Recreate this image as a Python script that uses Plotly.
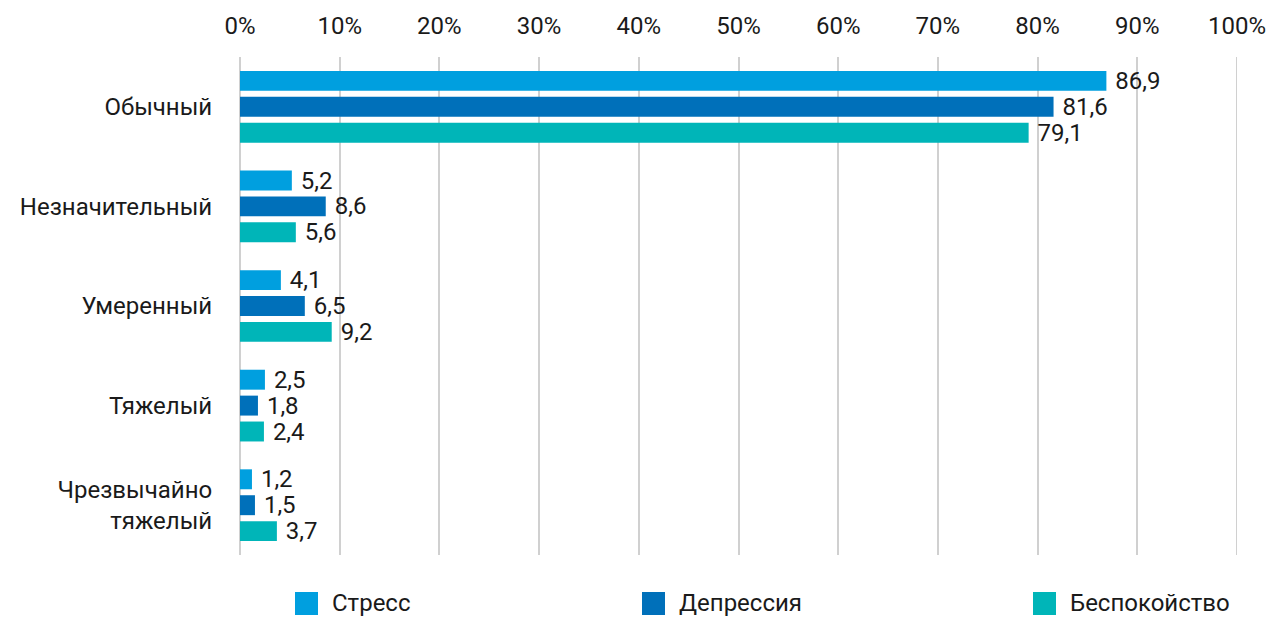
import plotly.graph_objects as go

categories = ["Обычный", "Незначительный", "Умеренный", "Тяжелый", "Чрезвычайно<br>тяжелый"]
series_names = ["Стресс", "Депрессия", "Беспокойство"]
stress = [86.9, 5.2, 4.1, 2.5, 1.2]
depression = [81.6, 8.6, 6.5, 1.8, 1.5]
anxiety = [79.1, 5.6, 9.2, 2.4, 3.7]
colors = ["#009FDF", "#0070BA", "#00B5B8"]
tick_vals = [0, 10, 20, 30, 40, 50, 60, 70, 80, 90, 100]
tick_text = [f"{v}%" for v in tick_vals]

FONT = "Roboto"
FS = 24
TXT = "#1a1a1a"
GRID = "#D0D0D0"

fig = go.Figure()
for name, vals, col in zip(series_names, [stress, depression, anxiety], colors):
    fig.add_trace(go.Bar(
        y=categories, x=vals, orientation="h", name=name,
        marker=dict(color=col, line=dict(width=0)),
        text=["\u00a0" + f"{v:.1f}".replace(".", ",") for v in vals],
        textposition="outside", cliponaxis=False, constraintext="none",
        textfont=dict(family=FONT, size=FS, color=TXT),
        showlegend=False,
    ))

# gridline at the right end of the axis (plotly skips grid at the range edge)
fig.add_shape(type="line", xref="x", yref="paper", x0=tick_vals[-1], x1=tick_vals[-1],
              y0=0, y1=1, line=dict(color=GRID, width=2), layer="below")

# legend (swatches + labels), placed in pixel space of the page
L, R, T, B = 240, 30, 57, 62
PW, PH = 1267 - L - R, 617 - T - B
def px(x):
    return (x - L) / PW
def py(y):
    return (617 - B - y) / PH

legend_left = [295, 642, 1033]
sw = 23
sy0, sy1 = 592, 615
for name, col, x0 in zip(series_names, colors, legend_left):
    fig.add_shape(type="rect", xref="paper", yref="paper",
                  x0=px(x0), x1=px(x0 + sw), y0=py(sy1), y1=py(sy0),
                  fillcolor=col, line=dict(width=0), layer="above")
    fig.add_annotation(xref="paper", yref="paper", x=px(x0 + sw + 13), y=py(602.5),
                       xanchor="left", yanchor="middle", showarrow=False, text=name,
                       borderpad=0,
                       font=dict(family=FONT, size=FS, color=TXT))

fig.update_layout(
    width=1267, height=617, showlegend=False,
    margin=dict(l=L, r=R, t=T, b=B),
    paper_bgcolor="white", plot_bgcolor="white",
    barmode="group", bargap=0.22, bargroupgap=0.23,
    font=dict(family=FONT, size=FS, color=TXT),
    xaxis=dict(side="top", range=[0, 100], tickvals=tick_vals, ticktext=tick_text,
               showgrid=True, gridcolor=GRID, gridwidth=2,
               zeroline=True, zerolinecolor=GRID, zerolinewidth=2,
               ticks="outside", ticklen=12, tickcolor="rgba(0,0,0,0)",
               tickfont=dict(family=FONT, size=FS, color=TXT),
               automargin=False, fixedrange=True),
    yaxis=dict(autorange="reversed", showgrid=False, zeroline=False,
               ticks="outside", ticklen=22, tickcolor="rgba(0,0,0,0)",
               tickfont=dict(family=FONT, size=FS, color=TXT),
               automargin=False, fixedrange=True),
)
fig.write_html("out.html")
